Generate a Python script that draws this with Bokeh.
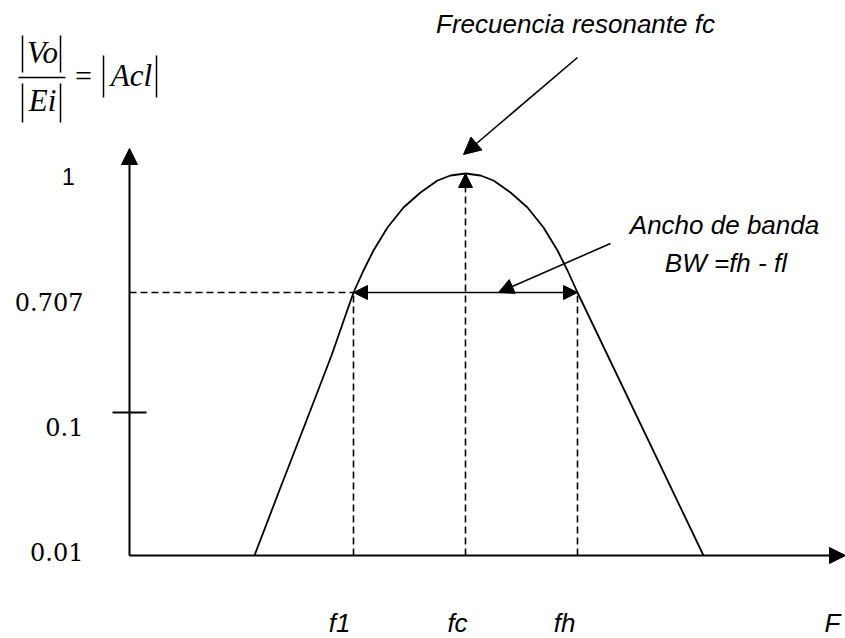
from bokeh.plotting import figure
from bokeh.models import Range1d, Arrow, NormalHead
from bokeh.core.properties import value
from bokeh.embed import file_html
from bokeh.resources import INLINE

# ---- data (schematic units: x = frequency position, y = gain position) ----
curve_freq = [125, 151, 177, 202, 224, 234, 244, 258, 274, 291, 308, 321, 336,
              351, 364, 381, 398, 414, 428, 438, 448, 574]
curve_gain = [0, 68, 135, 200, 263, 285, 305, 328, 348, 363, 375, 380, 382,
              380, 375, 363, 348, 328, 305, 285, 263, 0]

freq_names = ["f1", "fc", "fh", "F"]
freq_values = [224, 336, 448, 716]          # f1, fc, fh, axis end (F)

gain_names = ["1", "0.707", "0.1", "0.01"]
gain_values = [382, 263, 143, 0]            # peak, half-power, 0.1 tick, base
gain_axis_top = 407

title_fc = "Frecuencia resonante fc"
title_bw = ["Ancho de banda", "BW  =fh - fl"]

f1, fc, fh, f_end = freq_values
g_peak, g_half, g_tick, g_base = gain_values

# ---- figure ----
p = figure(width=845, height=638, output_backend="svg", toolbar_location=None,
           x_range=Range1d(-129, 716), y_range=Range1d(-83, 555),
           x_axis_location=None, y_axis_location=None, min_border=0)
p.outline_line_color = None
p.grid.visible = False
p.background_fill_color = "white"
p.border_fill_color = "white"

BLACK = "black"

def head(size):
    return NormalHead(size=size, fill_color=BLACK, line_color=BLACK, line_width=1)

# axes with arrows
p.add_layout(Arrow(x_start=0, y_start=g_base, x_end=0, y_end=gain_axis_top,
                   line_width=2, line_color=BLACK, end=head(16)))
p.add_layout(Arrow(x_start=0, y_start=g_base, x_end=f_end, y_end=g_base,
                   line_width=2, line_color=BLACK, end=head(16)))

# 0.1 tick
p.segment(x0=[-17], y0=[g_tick], x1=[17], y1=[g_tick], line_width=2, line_color=BLACK)

# response curve
p.line(curve_freq, curve_gain, line_width=1.8, line_color=BLACK)

# dashed guides
p.segment(x0=[0, f1, fh], y0=[g_half, g_base, g_base],
          x1=[f1, f1, fh], y1=[g_half, g_half, g_half],
          line_width=1.6, line_color=BLACK, line_dash="7 4")

# fc dashed arrow to peak
p.add_layout(Arrow(x_start=fc, y_start=g_base, x_end=fc, y_end=g_peak,
                   line_width=1.6, line_color=BLACK, line_dash="7 4", end=head(14)))

# bandwidth double arrow
p.add_layout(Arrow(x_start=f1, y_start=g_half, x_end=fh, y_end=g_half,
                   line_width=1.6, line_color=BLACK, start=head(14), end=head(14)))

# annotation arrows
p.add_layout(Arrow(x_start=448, y_start=498, x_end=fc - 2, y_end=g_peak + 19,
                   line_width=1.6, line_color=BLACK, end=head(17)))
p.add_layout(Arrow(x_start=481, y_start=312, x_end=369, y_end=g_half,
                   line_width=1.6, line_color=BLACK, end=head(15)))

# annotation texts
sans = value("Liberation Sans")
p.text(x=[446], y=[532], text=[title_fc], text_font=sans, text_font_size="26px",
       text_font_style="italic", text_align="center", text_baseline="middle",
       text_color=BLACK)
p.text(x=[595, 600], y=[331, 293], text=title_bw, text_font=sans,
       text_font_size="26px", text_font_style="italic", text_align="center",
       text_baseline="middle", text_color=BLACK)

# frequency labels
fx_off = [-14, -8, -13, -13]
p.text(x=[v + o for v, o in zip(freq_values, fx_off)], y=[-67] * 4, text=freq_names,
       text_font=sans, text_font_size="26px", text_font_style="italic",
       text_align="center", text_baseline="middle", text_color=BLACK)

# gain labels
p.text(x=[-61], y=[gain_values[0] - 3], text=[gain_names[0]],
       text_font=sans, text_font_size="23px",
       text_align="center", text_baseline="middle", text_color=BLACK)
gy_off = [-9, -14, 4]
p.text(x=[-46] * 3, y=[v + o for v, o in zip(gain_values[1:], gy_off)], text=gain_names[1:],
       text_font=value("DejaVu Serif"), text_font_size="24px",
       text_align="right", text_baseline="middle", text_color=BLACK)

# formula |Vo| / |Ei| = |Acl|
serif = value("Liberation Serif")
p.text(x=[-87, -87, 2], y=[503, 455, 480], text=["Vo", "Ei", "Acl"], text_font=serif,
       text_font_size="31px", text_font_style="italic", text_align="center",
       text_baseline="middle", text_color=BLACK)
p.text(x=[-46], y=[480], text=["="], text_font=serif, text_font_size="30px",
       text_align="center", text_baseline="middle", text_color=BLACK)
p.segment(x0=[-107, -69, -107, -69, -26, 27, -111],
          y0=[520, 520, 472, 472, 500, 500, 478],
          x1=[-107, -69, -107, -69, -26, 27, -64],
          y1=[483, 483, 433, 433, 458, 458, 478],
          line_width=1.5, line_color=BLACK)

open("out.html", "w").write(file_html(p, INLINE))
